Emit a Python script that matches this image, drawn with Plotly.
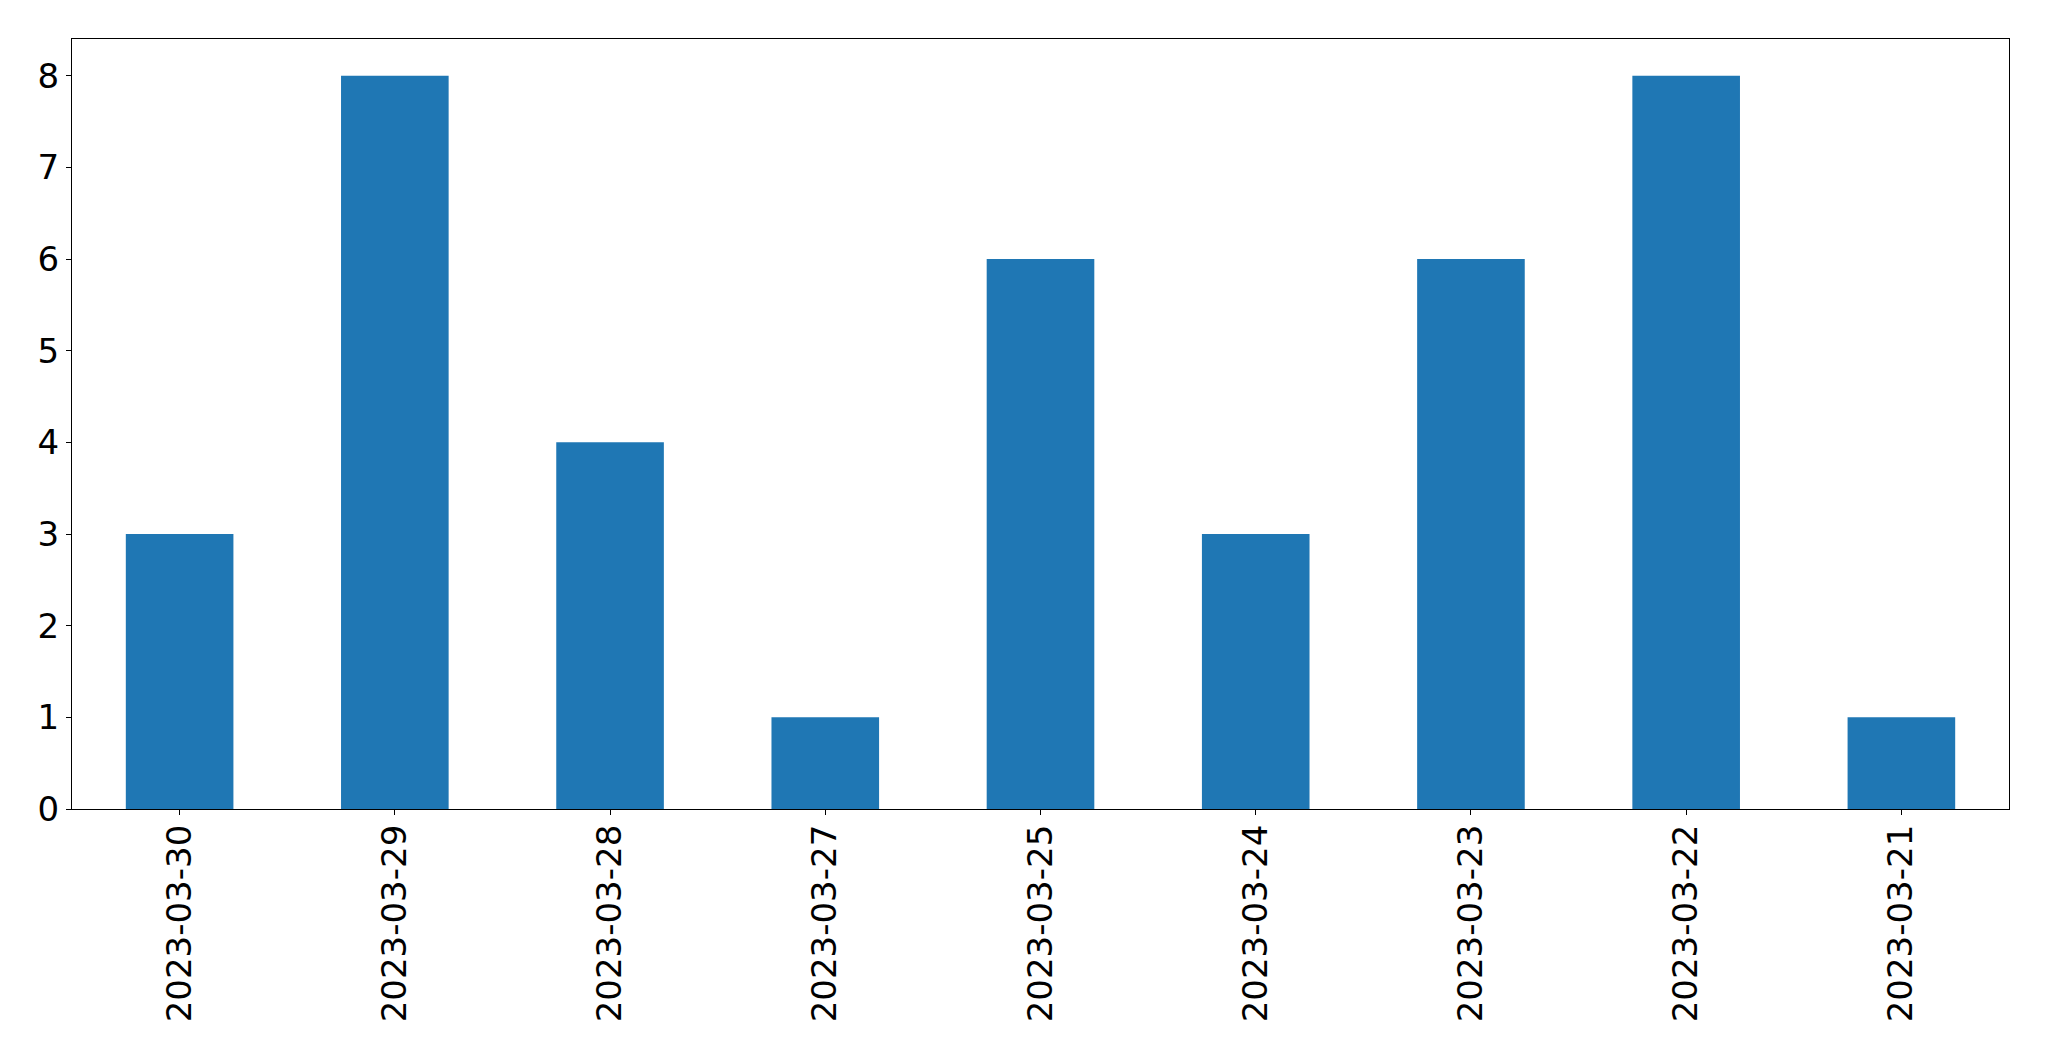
import plotly.graph_objects as go

dates = ["2023-03-30", "2023-03-29", "2023-03-28", "2023-03-27", "2023-03-25",
         "2023-03-24", "2023-03-23", "2023-03-22", "2023-03-21"]
counts = [3, 8, 4, 1, 6, 3, 6, 8, 1]
y_ticks = [0, 1, 2, 3, 4, 5, 6, 7, 8]

fig = go.Figure(go.Bar(x=dates, y=counts, marker_color="#1f77b4",
                       marker_line_width=0, width=0.5))

axis_common = dict(showline=True, linecolor="black", linewidth=1.3, mirror=True,
                   ticks="outside", ticklen=5, tickwidth=1.3, tickcolor="black",
                   showgrid=False, zeroline=False,
                   tickfont=dict(family="DejaVu Sans", size=34, color="black"))

fig.update_xaxes(type="category", range=[-0.5, 8.5], tickangle=-90,
                 ticklabelstandoff=-4, **axis_common)
fig.update_yaxes(range=[0, 8.4], tickvals=y_ticks, **axis_common)

# page body has an 8px margin; shrink canvas so the plot lands at the reference position
fig.update_layout(width=2041, height=1053,
                  margin=dict(l=64, r=40, t=31, b=252, autoexpand=False),
                  plot_bgcolor="white", paper_bgcolor="white",
                  bargap=0.5, showlegend=False)

fig.write_html("out.html")
